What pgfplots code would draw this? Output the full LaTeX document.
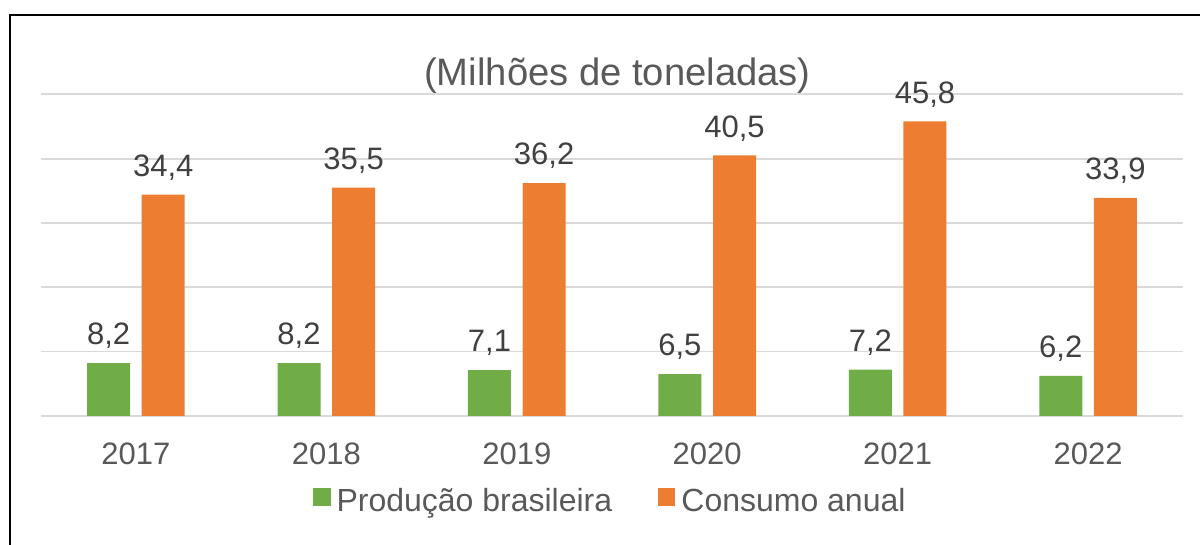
\documentclass[border=0pt]{standalone}
\usepackage{fontspec}
\setmainfont{Liberation Sans}
\usepackage{pgfplots}
\pgfplotsset{compat=1.18}
\definecolor{cgreen}{HTML}{70AD47}
\definecolor{corange}{HTML}{ED7D31}
\definecolor{tgray}{HTML}{595959}
\definecolor{dgray}{HTML}{404040}
\definecolor{ggray}{HTML}{D9D9D9}
\begin{document}
\begin{tikzpicture}
\begin{axis}[
  at={(0,0)}, anchor=south west,
  scale only axis, width=571.3pt, height=160.75pt,
  xmin=-0.5, xmax=5.5, ymin=0, ymax=50,
  ybar, bar width=0.2258,
  xtick={0,1,2,3,4,5},
  xticklabels={2017,2018,2019,2020,2021,2022},
  ytick={0,10,20,30,40,50}, yticklabels={},
  ymajorgrids, major grid style={line width=0.9pt, color=ggray},
  axis line style={draw=none},
  major tick length=0pt,
  clip=false,
  xticklabel style={anchor=base, yshift=-24.6pt, font=\fontsize{15.5}{18}\selectfont, text=tgray},
  /pgf/number format/.cd, use comma, fixed, fixed zerofill, precision=1, assume math mode=true,
  /pgfplots/.cd,
  nodes near coords,
  nodes near coords style={anchor=base, yshift=9.1pt, inner sep=0pt, font=\fontsize{15.5}{18}\selectfont, text=dgray},
  title={(Milhões de toneladas)},
  title style={at={(axis description cs:0.5,1)}, anchor=base, yshift=-1.35pt, xshift=2.75pt, inner sep=0pt, font=\fontsize{19.1}{22}\selectfont, text=tgray},
  legend columns=2,
  legend style={draw=none, fill=none, inner sep=0pt, outer sep=0pt,
    at={(0,0)}, anchor=west, xshift=136.3pt, yshift=-42.8pt,
    font=\fontsize{16}{19}\selectfont, text=tgray,
    nodes={inner sep=0pt},
    /tikz/every odd column/.append style={column sep=3pt},
    /tikz/every even column/.append style={column sep=23pt}},
  legend cell align=left,
]
\addplot[fill=cgreen, draw=none, bar shift=-0.1434,
  legend image code/.code={\fill[cgreen] (0pt,-2.2pt) rectangle (8.6pt,6.6pt);}]
  coordinates {(0,8.2) (1,8.2) (2,7.1) (3,6.5) (4,7.2) (5,6.2)};
\addlegendentry{Produção brasileira}
\addplot[fill=corange, draw=none, bar shift=0.1434,
  legend image code/.code={\fill[corange] (0pt,-2.2pt) rectangle (8.6pt,6.6pt);}]
  coordinates {(0,34.4) (1,35.5) (2,36.2) (3,40.5) (4,45.8) (5,33.9)};
\addlegendentry{Consumo anual}
\end{axis}
\draw[line width=1pt, black] (-15.2pt,-80pt) -- (-15.2pt,200.4pt) -- (600pt,200.4pt);
\pgfresetboundingbox
\path[use as bounding box] (-20.35pt,-64.6pt) rectangle (579.65pt,207.9pt);
\end{tikzpicture}
\end{document}
